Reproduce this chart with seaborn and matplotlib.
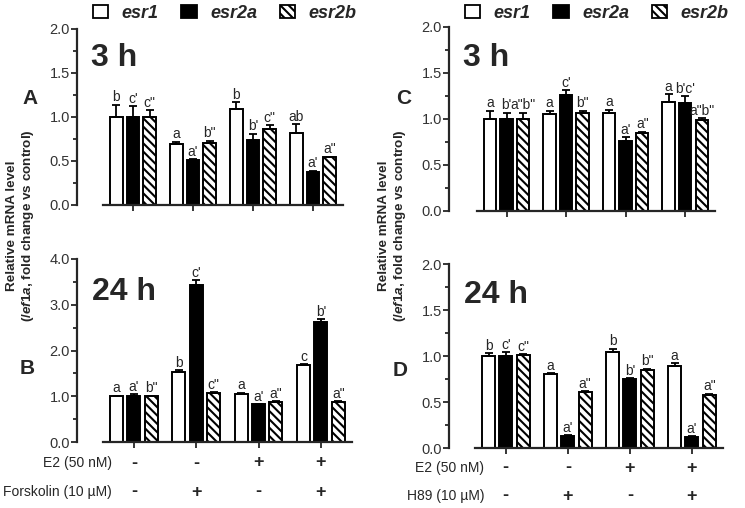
import matplotlib
matplotlib.use("Agg")
import matplotlib.pyplot as plt
import matplotlib.transforms as mtransforms
from matplotlib.patches import Patch
from matplotlib.ticker import MultipleLocator, FormatStrFormatter
import seaborn as sns
import pandas as pd

genes = ["esr1", "esr2a", "esr2b"]
conds = ["ctrl", "drug", "E2", "E2+drug"]
e2_signs = ["-", "-", "+", "+"]
drug_signs = ["-", "+", "-", "+"]

# panel A: 3 h, forskolin
a_means = [[1.00, 0.69, 1.09, 0.82],
           [1.00, 0.51, 0.74, 0.38],
           [1.00, 0.71, 0.86, 0.54]]
a_errs = [[0.14, 0.03, 0.08, 0.10],
          [0.12, 0.01, 0.07, 0.01],
          [0.08, 0.02, 0.05, 0.01]]
a_letters = [["b", "a", "b", "ab"],
             ["c'", "a'", "b'", "a'"],
             ['c"', 'b"', 'c"', 'a"']]

# panel B: 24 h, forskolin
b_means = [[1.00, 1.54, 1.06, 1.68],
           [1.01, 3.43, 0.82, 2.63],
           [1.00, 1.08, 0.88, 0.88]]
b_errs = [[0.01, 0.03, 0.02, 0.02],
          [0.03, 0.11, 0.01, 0.06],
          [0.01, 0.01, 0.01, 0.01]]
b_letters = [["a", "b", "a", "c"],
             ["a'", "c'", "a'", "b'"],
             ['b"', 'c"', 'a"', 'a"']]

# panel C: 3 h, H89
c_means = [[1.00, 1.05, 1.06, 1.19],
           [1.00, 1.26, 0.76, 1.17],
           [1.00, 1.07, 0.85, 0.99]]
c_errs = [[0.09, 0.04, 0.04, 0.08],
          [0.07, 0.05, 0.04, 0.08],
          [0.07, 0.02, 0.01, 0.02]]
c_letters = [["a", "a", "a", "a"],
             ["b'", "c'", "a'", "b'c'"],
             ['a"b"', 'b"', 'a"', 'a"b"']]

# panel D: 24 h, H89
d_means = [[1.00, 0.80, 1.04, 0.89],
           [1.00, 0.13, 0.75, 0.12],
           [1.01, 0.61, 0.85, 0.58]]
d_errs = [[0.03, 0.01, 0.04, 0.03],
          [0.04, 0.01, 0.01, 0.01],
          [0.01, 0.01, 0.01, 0.01]]
d_letters = [["b", "a", "b", "a"],
             ["c'", "a'", "b'", "a'"],
             ['c"', 'a"', 'b"', 'a"']]

sns.set_theme(style="ticks")
plt.rcParams["font.family"] = ["Liberation Sans", "DejaVu Sans"]
plt.rcParams["hatch.linewidth"] = 1.5
plt.rcParams["mathtext.fontset"] = "custom"
plt.rcParams["mathtext.it"] = "Liberation Sans:italic:bold"
plt.rcParams["mathtext.rm"] = "Liberation Sans:bold"

HATCH = "\\\\\\\\"
W, H = 745, 508


def px_rect(x0, x1, y_top, y_bottom):
    return [x0 / W, 1 - y_bottom / H, (x1 - x0) / W, (y_bottom - y_top) / H]


def draw_panel(ax, means, errs, letters, ymax, major, minor, xmin):
    rows = []
    for g, vals in zip(genes, means):
        for c, v in zip(conds, vals):
            rows.append({"cond": c, "gene": g, "value": v})
    df = pd.DataFrame(rows)
    sns.barplot(data=df, x="cond", y="value", hue="gene", order=conds, hue_order=genes,
                palette={"esr1": "white", "esr2a": "black", "esr2b": "white"},
                edgecolor="black", linewidth=1.4, width=0.835, gap=0.25,
                saturation=1, errorbar=None, legend=False, ax=ax)
    bar_conts = list(ax.containers)
    for gi, cont in enumerate(bar_conts):
        for bar, e, lab in zip(cont, errs[gi], letters[gi]):
            if gi == 2:
                bar.set_hatch(HATCH)
            x = bar.get_x() + bar.get_width() / 2
            h = bar.get_height()
            ax.errorbar(x, h, yerr=[[0], [e]], fmt="none", ecolor="black",
                        elinewidth=1.3, capsize=2.8, capthick=1.3)
            ax.annotate(lab, (x, h + e), xytext=(0, 0.3), textcoords="offset points",
                        ha="center", va="bottom", fontsize=10)
    sns.despine(ax=ax)
    for s in ["left", "bottom"]:
        ax.spines[s].set_linewidth(1.6)
    ax.spines["bottom"].set_bounds(-0.5, 3.5)
    ax.set_xlim(xmin, 3.5)
    ax.set_ylim(0, ymax)
    ax.set_xticks(range(4))
    ax.set_xticklabels([])
    ax.set_xlabel("")
    ax.set_ylabel("")
    ax.yaxis.set_major_locator(MultipleLocator(major))
    ax.yaxis.set_minor_locator(MultipleLocator(minor))
    ax.yaxis.set_major_formatter(FormatStrFormatter("%.1f"))
    ax.tick_params(axis="y", which="major", length=4, width=1.3, labelsize=10.5,
                   pad=1, labelcolor="#333333")
    ax.tick_params(axis="y", which="minor", length=3, width=1.3)
    ax.tick_params(axis="x", length=4, width=1.3)


fig = plt.figure(figsize=(7.45, 5.08), dpi=100)
ax_a = fig.add_axes(px_rect(77, 343, 29, 205))
ax_b = fig.add_axes(px_rect(77, 352, 259, 442))
ax_c = fig.add_axes(px_rect(449, 715, 27, 211))
ax_d = fig.add_axes(px_rect(449, 723, 264, 448))

draw_panel(ax_a, a_means, a_errs, a_letters, 2.0, 0.5, 0.25, -0.933)
draw_panel(ax_b, b_means, b_errs, b_letters, 4.0, 1.0, 0.5, -0.915)
draw_panel(ax_c, c_means, c_errs, c_letters, 2.0, 0.5, 0.25, -0.967)
draw_panel(ax_d, d_means, d_errs, d_letters, 2.0, 0.5, 0.25, -0.915)

# legends
handles = [Patch(facecolor="white", edgecolor="black", linewidth=1.3),
           Patch(facecolor="black", edgecolor="black", linewidth=1.3),
           Patch(facecolor="white", edgecolor="black", linewidth=1.3, hatch=HATCH)]
for x0 in [93, 465]:
    fig.legend(handles, genes, loc="center left", bbox_to_anchor=(x0 / W, 1 - 13 / H),
               ncol=3, frameon=False, prop={"weight": "bold", "style": "italic", "size": 13},
               handlelength=0.85, handleheight=0.72, handletextpad=0.75, columnspacing=1.25,
               borderpad=0, borderaxespad=0)

# panel letters and time labels
for lab, x, y in [("A", 30, 99), ("B", 27, 369), ("C", 404, 99), ("D", 400, 370)]:
    fig.text(x / W, 1 - y / H, lab, fontsize=15, weight="bold", ha="center", va="center")
for lab, x, y in [("3 h", 91, 66), ("24 h", 92, 300), ("3 h", 463, 66), ("24 h", 464, 303)]:
    fig.text(x / W, 1 - y / H, lab, fontsize=23, weight="bold", ha="left", va="baseline")

ylab = "Relative mRNA level\n(/$\\mathit{ef1a}$, fold change vs control)"
for x in [21, 393]:
    fig.text(x / W, 1 - 226 / H, ylab, rotation=90, ha="center", va="center",
             fontsize=9.7, weight="bold", linespacing=1.15, multialignment="center")

# treatment rows
for ax, drug, y1, y2 in [(ax_b, "Forskolin (10 \u00b5M)", 463, 492),
                         (ax_d, "H89 (10 \u00b5M)", 468, 496)]:
    trans = mtransforms.blended_transform_factory(ax.transData, fig.transFigure)
    ax.text(-0.35, 1 - y1 / H, "E2 (50 nM)", transform=trans, ha="right", va="center", fontsize=10)
    ax.text(-0.35, 1 - y2 / H, drug, transform=trans, ha="right", va="center", fontsize=10)
    for i in range(4):
        ax.text(i, 1 - y1 / H, e2_signs[i], transform=trans, ha="center", va="center",
                fontsize=13, weight="bold")
        ax.text(i, 1 - y2 / H, drug_signs[i], transform=trans, ha="center", va="center",
                fontsize=13, weight="bold")

fig.savefig("out.png", dpi=100)
